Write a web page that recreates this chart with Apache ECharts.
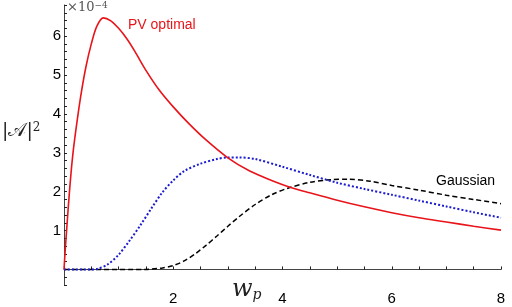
<!DOCTYPE html>
<html>
<head>
<meta charset="utf-8">
<script src="https://cdn.jsdelivr.net/npm/echarts@6/dist/echarts.min.js"></script>
<style>
html, body { margin: 0; padding: 0; background: #fff; }
#chart { width: 512px; height: 307px; }
</style>
</head>
<body>
<div id="chart"></div>
<script>
// |A|^2 in units of 1e-4
var pvX = [0, 0.02, 0.05, 0.1, 0.15, 0.2, 0.3, 0.4, 0.5, 0.6, 0.72, 0.85, 1.0, 1.15, 1.3, 1.5, 1.75, 2.0, 2.3, 2.6, 3.0, 3.4, 3.8, 4.15, 4.5, 5.0, 5.5, 6.0, 6.5, 7.0, 7.5, 8.0];
var pvVal = [0, 0.45, 1.05, 2.0, 2.8, 3.4, 4.4, 5.2, 5.8, 6.25, 6.47, 6.4, 6.2, 5.93, 5.6, 5.12, 4.6, 4.18, 3.73, 3.33, 2.87, 2.53, 2.29, 2.11, 1.97, 1.78, 1.61, 1.46, 1.33, 1.22, 1.11, 1.01];

var blueX = [0, 0.5, 0.6, 0.8, 1.0, 1.2, 1.4, 1.6, 1.8, 2.0, 2.2, 2.5, 2.8, 3.0, 3.2, 3.5, 4.0, 4.5, 5.0, 5.5, 6.0, 6.5, 7.0, 7.5, 8.0];
var blueVal = [0, 0, 0.01, 0.13, 0.38, 0.74, 1.14, 1.57, 1.98, 2.29, 2.53, 2.72, 2.84, 2.88, 2.88, 2.84, 2.64, 2.43, 2.23, 2.07, 1.92, 1.77, 1.62, 1.47, 1.33];

var gaussX = [0, 1.5, 1.6, 1.8, 2.0, 2.2, 2.4, 2.6, 2.8, 3.0, 3.2, 3.5, 3.8, 4.1, 4.5, 4.9, 5.2, 5.6, 6.0, 6.5, 7.0, 7.5, 8.0];
var gaussVal = [0, 0, 0.01, 0.04, 0.1, 0.22, 0.4, 0.62, 0.86, 1.11, 1.35, 1.67, 1.92, 2.09, 2.24, 2.31, 2.32, 2.27, 2.16, 2.04, 1.91, 1.8, 1.69];

var xTickLabels = [2, 4, 6, 8];
var yTickLabels = [1, 2, 3, 4, 5, 6];

function pairs(xs, ys) {
    return xs.map(function (x, i) { return [x, ys[i]]; });
}

var chart = echarts.init(document.getElementById('chart'));
var axisColor = '#444';
var option = {
    animation: false,
    grid: { left: 64, right: 11, top: 5, bottom: 22 },
    xAxis: {
        type: 'value',
        min: 0,
        max: 8,
        interval: 0.5,
        axisLine: { onZero: true, lineStyle: { color: axisColor, width: 1 } },
        axisTick: { inside: true, length: 3, lineStyle: { color: '#222' } },
        splitLine: { show: false },
        axisLabel: {
            margin: 6,
            color: '#000',
            fontFamily: 'Liberation Sans',
            fontSize: 15,
            formatter: function (v) {
                return xTickLabels.indexOf(v) >= 0 ? String(v) : '';
            }
        }
    },
    yAxis: {
        type: 'value',
        min: -0.4,
        max: 6.8,
        interval: 0.2,
        axisLine: { show: true, onZero: false, lineStyle: { color: axisColor, width: 1 } },
        axisTick: { inside: true, length: 3, lineStyle: { color: '#222' } },
        splitLine: { show: false },
        axisLabel: {
            margin: 3,
            color: '#000',
            fontFamily: 'Liberation Sans',
            fontSize: 15,
            formatter: function (v) {
                var r = Math.round(v);
                return (Math.abs(v - r) < 1e-6 && yTickLabels.indexOf(r) >= 0) ? String(r) : '';
            }
        }
    },
    series: [
        {
            name: 'Gaussian',
            type: 'line',
            smooth: 0.3,
            showSymbol: false,
            lineStyle: { color: '#000', width: 1.5, type: [5, 3] },
            data: pairs(gaussX, gaussVal)
        },
        {
            name: 'blue',
            type: 'line',
            smooth: 0.3,
            showSymbol: false,
            lineStyle: { color: '#1c1cd0', width: 2, type: [2, 2] },
            data: pairs(blueX, blueVal)
        },
        {
            name: 'PV optimal',
            type: 'line',
            smooth: 0.3,
            showSymbol: false,
            lineStyle: { color: '#e8141a', width: 1.6 },
            data: pairs(pvX, pvVal)
        }
    ],
    graphic: [
        {
            type: 'text', left: 128, top: 18,
            style: { text: 'PV optimal', fill: '#e8141a', font: '14px "Liberation Sans"' }
        },
        {
            type: 'text', left: 436, top: 174,
            style: { text: 'Gaussian', fill: '#000', font: '14px "Liberation Sans"' }
        },
        {
            type: 'text', left: 67, top: 1,
            style: {
                text: '×10{s|−4}',
                fill: '#555',
                font: '13px "DejaVu Serif"',
                rich: { s: { fontSize: 9, verticalAlign: 'top', fill: '#555', fontFamily: 'DejaVu Serif' } }
            }
        },
        {
            type: 'text', left: 2, top: 122,
            style: {
                text: '|𝒜|{s|2}',
                fill: '#222',
                font: '19px "DejaVu Serif"',
                rich: { s: { fontSize: 12, verticalAlign: 'top', fill: '#222', fontFamily: 'DejaVu Serif' } }
            }
        },
        {
            type: 'text', left: 232, top: 278,
            style: {
                text: 'w{s|p}',
                fill: '#222',
                font: 'italic 24px "DejaVu Serif"',
                rich: { s: { fontSize: 14, fontStyle: 'italic', verticalAlign: 'bottom', fill: '#222', fontFamily: 'DejaVu Serif', padding: [10, 0, 0, 0] } }
            }
        }
    ]
};
chart.setOption(option);
</script>
</body>
</html>
